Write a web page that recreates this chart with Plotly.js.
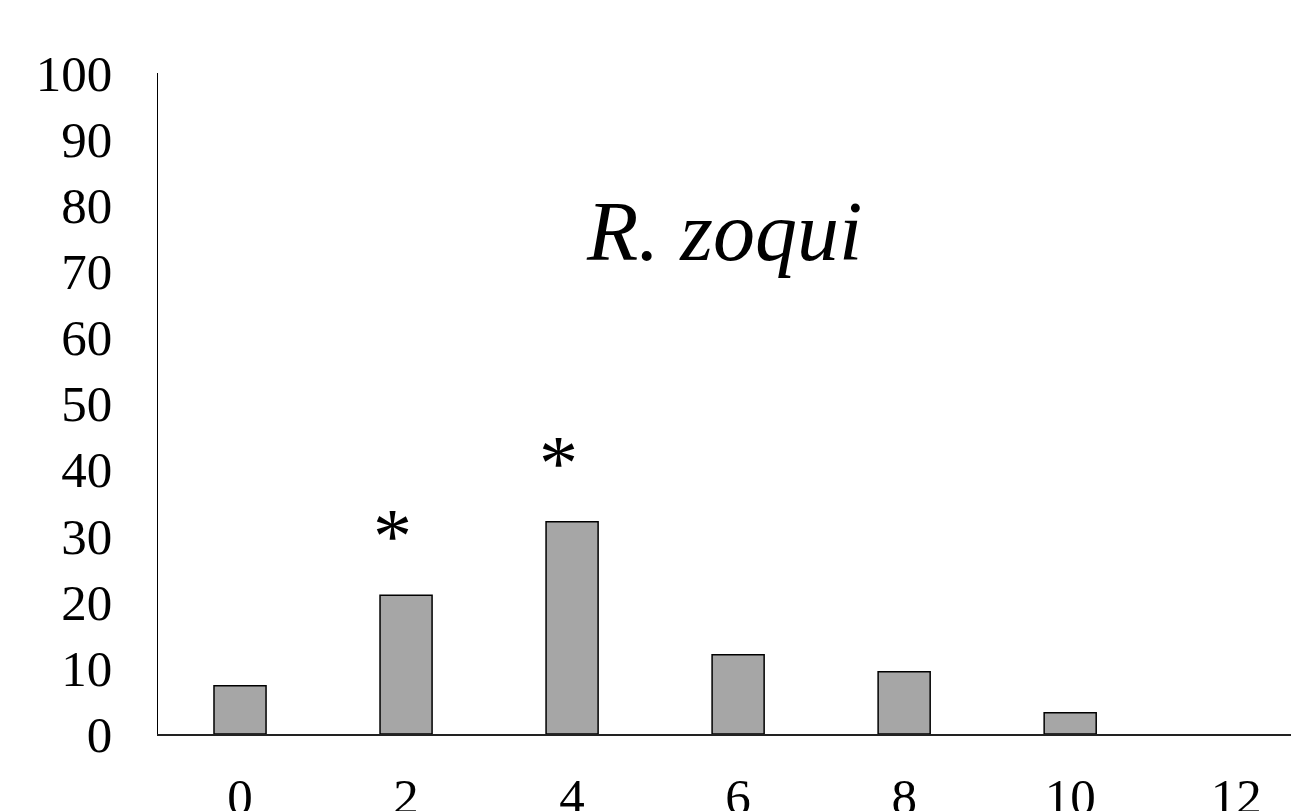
<!DOCTYPE html>
<html>
<head>
<meta charset="utf-8">
<script src="https://cdn.plot.ly/plotly-3.0.1.min.js"></script>
<style>
html,body{margin:0;padding:0;overflow:hidden;background:#fff;}
#chart{width:1291px;height:811px;}
</style>
</head>
<body>
<div id="chart"></div>
<script>
// Data
const categories = [0, 2, 4, 6, 8, 10, 12];
const values = [7.3, 21.0, 32.1, 12.0, 9.4, 3.2, 0];
const significant = [2, 4];          // categories marked with "*"
const yTicks = [0, 10, 20, 30, 40, 50, 60, 70, 80, 90, 100];
const titleText = "R. zoqui";

const FONT = '"Liberation Serif", "Times New Roman", serif';

const trace = {
  type: 'bar',
  x: categories,
  y: values,
  width: 0.627,
  marker: {
    color: '#a6a6a6',
    line: {color: '#000000', width: values.map(v => v > 0 ? 1.5 : 0)}
  },
  hoverinfo: 'skip'
};

const annotations = significant.map(c => {
  const v = values[categories.indexOf(c)];
  return {
    x: c, y: v, xref: 'x', yref: 'y',
    text: '*', showarrow: false,
    xanchor: 'center', yanchor: 'bottom',
    xshift: -14, yshift: 14,
    font: {family: FONT, size: 78, color: '#000'}
  };
});
annotations.push({
  x: 0.5, y: 0.76, xref: 'paper', yref: 'paper',
  text: '<i>' + titleText + '</i>', showarrow: false,
  xanchor: 'center', yanchor: 'middle',
  xshift: -1, yshift: 0,
  font: {family: FONT, size: 84, color: '#000'}
});

const layout = {
  width: 1291, height: 811,
  margin: {l: 158, r: 0, t: 73, b: 77, pad: 0},
  paper_bgcolor: '#fff', plot_bgcolor: '#fff',
  showlegend: false,
  font: {family: FONT, color: '#000'},
  xaxis: {
    range: [-0.988, 12.66],
    tickvals: categories,
    ticktext: categories.map(String),
    showgrid: false, zeroline: false,
    showline: true, linecolor: '#222', linewidth: 1.5,
    ticks: '', ticklabelstandoff: 17,
    tickfont: {family: FONT, size: 51, color: '#000'},
    fixedrange: true
  },
  yaxis: {
    range: [0, 100],
    tickvals: yTicks,
    ticktext: yTicks.map(String),
    showgrid: false, zeroline: false,
    showline: true, linecolor: '#000', linewidth: 1.5,
    ticks: '', ticklabelstandoff: 34,
    tickfont: {family: FONT, size: 51, color: '#000'},
    fixedrange: true
  },
  annotations: annotations
};

Plotly.newPlot('chart', [trace], layout, {displayModeBar: false, staticPlot: true});
</script>
</body>
</html>
